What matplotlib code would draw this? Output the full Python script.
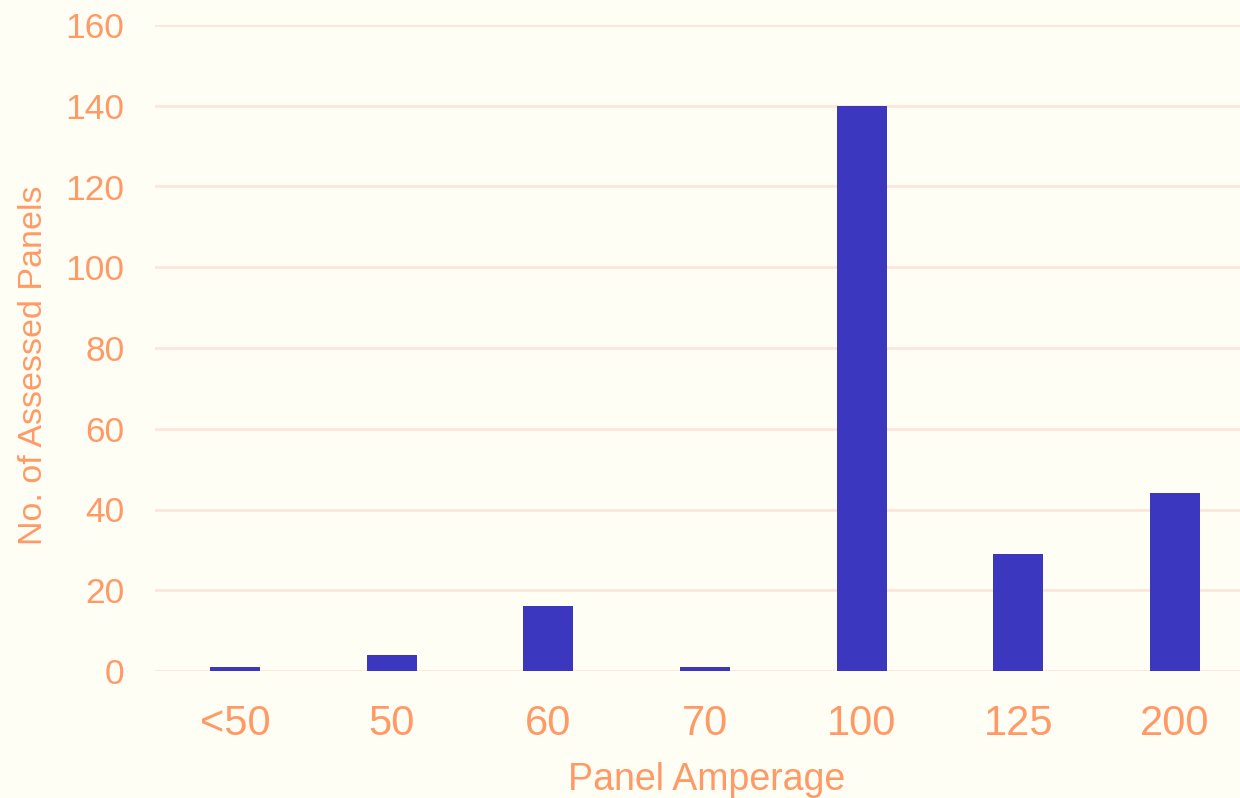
import matplotlib
matplotlib.use("Agg")
import matplotlib.pyplot as plt

categories = ["<50", "50", "60", "70", "100", "125", "200"]
counts = [1, 4, 16, 1, 140, 29, 44]
yticks = [0, 20, 40, 60, 80, 100, 120, 140, 160]

bg = "#FFFEF5"
bar_color = "#3B37BE"
text_color = "#FF9A66"
grid_color = "#FDE6DC"

plt.rcParams['font.family'] = ['Liberation Sans', 'DejaVu Sans']

fig = plt.figure(figsize=(12.4, 7.98), dpi=100, facecolor=bg)
ax = fig.add_axes([155/1240, 127/798, 1 - 155/1240, (671-25)/798])
ax.set_facecolor(bg)

x = list(range(len(categories)))
ax.bar(x, counts, width=0.32, color=bar_color, zorder=3)

ax.set_xlim(-0.51, 6.415)
ax.set_ylim(0, 160)
ax.set_yticks(yticks)
ax.set_xticks(x)
ax.set_xticklabels(categories)

ax.grid(axis='y', color=grid_color, linewidth=2, zorder=0)
ax.grid(axis='x', visible=False)
for s in ax.spines.values():
    s.set_visible(False)

ax.tick_params(axis='both', length=0, labelcolor=text_color)
ax.tick_params(axis='y', pad=22, labelsize=25.5)
ax.tick_params(axis='x', pad=24, labelsize=30)

ax.set_xlabel("Panel Amperage", fontsize=27, color=text_color)
ax.set_ylabel("No. of Assessed Panels", fontsize=24.5, color=text_color)
ax.xaxis.set_label_coords(0.508, -0.141, transform=ax.transAxes)
ax.yaxis.set_label_coords(-0.098, 0.474, transform=ax.transAxes)

fig.savefig("out.png", dpi=100, facecolor=bg)
